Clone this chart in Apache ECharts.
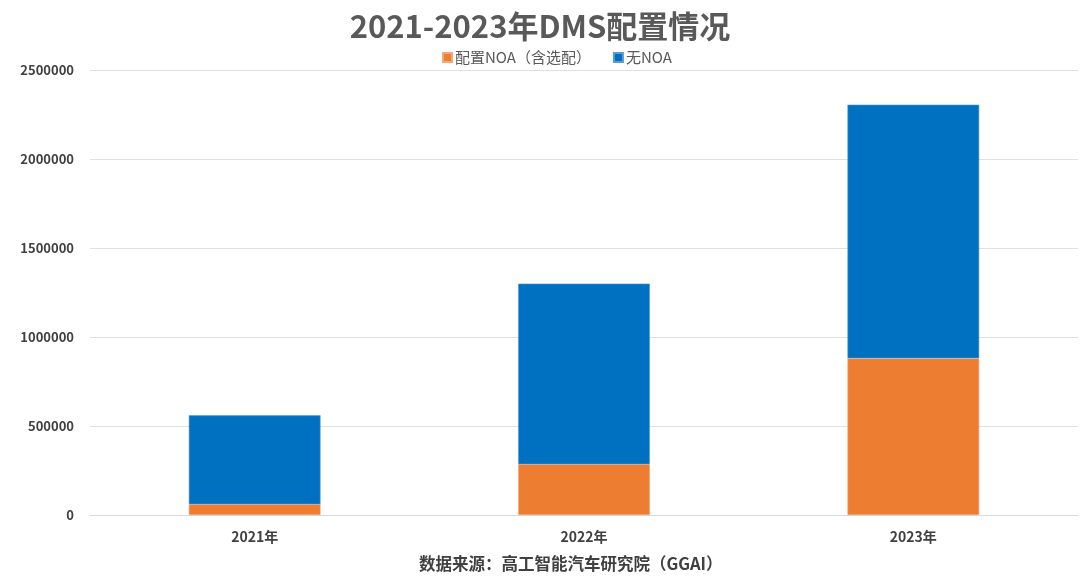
<!DOCTYPE html>
<html><head><meta charset="utf-8">
<script src="https://cdn.jsdelivr.net/npm/echarts@6/dist/echarts.min.js"></script>
<style>html,body{margin:0;padding:0;background:#fff}#c{width:1080px;height:583px}</style>
</head><body><div id="c"></div>
<script>
var categories = ['2021年', '2022年', '2023年'];
var noaValues = [60000, 285000, 880000];
var noNoaValues = [500000, 1015000, 1425000];
var seriesNames = ['配置NOA（含选配）', '无NOA'];
var yTicks = [0, 500000, 1000000, 1500000, 2000000, 2500000];

var font = '"Noto Sans CJK SC", "Noto Sans", sans-serif';
var chart = echarts.init(document.getElementById('c'));
chart.setOption({
  animation: false,
  backgroundColor: '#fff',
  title: {
    text: '2021-2023年DMS配置情况',
    left: 'center', top: 6,
    textStyle: {fontFamily: font, fontSize: 31, fontWeight: 'bold', color: '#595959'}
  },
  legend: {
    top: 45, left: 437, itemWidth: 9, itemHeight: 9, itemGap: 22,
    icon: 'rect',
    textStyle: {fontFamily: font, fontSize: 15, color: '#595959', padding: [0, 0, 0, -2]},
    data: seriesNames
  },
  graphic: [{
    type: 'text', left: 419, top: 555,
    style: {text: '数据来源：高工智能汽车研究院（GGAI）', font: 'bold 16.5px ' + font, fill: '#404040'}
  }],
  grid: {left: 90, right: 2, top: 70, bottom: 68, containLabel: false},
  xAxis: {
    type: 'category', data: categories,
    axisLine: {show: true, lineStyle: {color: '#d9d9d9', width: 1}},
    axisTick: {show: false},
    axisLabel: {fontFamily: font, fontSize: 14, fontWeight: 'bold', color: '#404040', margin: 15}
  },
  yAxis: {
    type: 'value', min: 0, max: yTicks[yTicks.length - 1], interval: 500000,
    axisLine: {show: false}, axisTick: {show: false},
    splitLine: {lineStyle: {color: '#e0e0e0', width: 1}},
    axisLabel: {fontFamily: font, fontSize: 13, fontWeight: 'bold', color: '#404040', margin: 16,
      formatter: function (v) { return String(v); }}
  },
  series: [
    {name: seriesNames[0], type: 'bar', stack: 'a', data: noaValues, barWidth: '40%',
     itemStyle: {color: '#ED7D31', borderColor: '#F4A777', borderWidth: 0.6}},
    {name: seriesNames[1], type: 'bar', stack: 'a', data: noNoaValues, barWidth: '40%',
     itemStyle: {color: '#0070C0', borderColor: '#5B9BD5', borderWidth: 0.6}}
  ]
});
</script></body></html>
